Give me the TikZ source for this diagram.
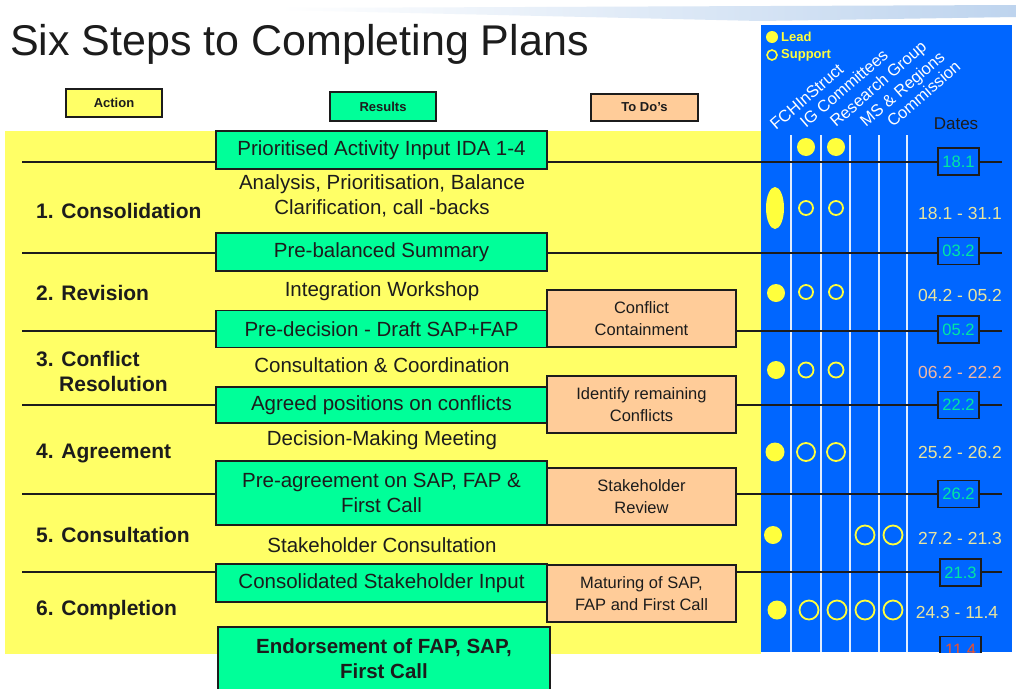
\documentclass[tikz,border=0pt]{standalone}
\usepackage{fontspec}
\setmainfont{Liberation Sans}
\definecolor{ylw}{RGB}{255,255,102}
\definecolor{grn}{RGB}{0,255,153}
\definecolor{pch}{RGB}{255,204,153}
\definecolor{pnl}{RGB}{0,102,255}
\definecolor{dtxt}{RGB}{0,232,160}
\definecolor{rtxt}{RGB}{232,228,160}
\definecolor{ptxt}{RGB}{240,184,164}
\definecolor{dot}{RGB}{255,255,60}
\definecolor{ink}{RGB}{28,28,28}
\definecolor{barblue}{RGB}{190,212,238}
\definecolor{redtxt}{RGB}{240,80,40}
\begin{document}
\begin{tikzpicture}[x=1pt,y=-1pt,
 ln/.style={draw=ink,line width=1.8pt},
 box/.style={draw=ink,line width=1.5pt,inner sep=0pt,align=center,text=ink},
 gbox/.style={box,fill=grn,minimum width=331pt,font=\fontsize{20.5}{25.5}\selectfont},
 pbox/.style={box,fill=pch,minimum width=189pt,minimum height=57pt,font=\fontsize{16.5}{22.5}\selectfont},
 hbox/.style={box,line width=1.3pt,font=\bfseries\fontsize{13}{15}\selectfont},
 act/.style={text=ink,align=center,font=\fontsize{20.5}{25}\selectfont,inner sep=0pt},
 stp/.style={text=ink,font=\bfseries\fontsize{21}{24}\selectfont,inner sep=0pt,anchor=base west},
 dbox/.style={draw=ink,line width=1.5pt,fill=pnl,text=dtxt,minimum width=41pt,minimum height=27pt,inner sep=0pt,font=\fontsize{16.5}{20}\selectfont},
 rng/.style={text=rtxt,font=\fontsize{17.5}{20}\selectfont,inner sep=0pt},
 supp/.style={draw=dot,line width=1.8pt},
 colh/.style={text=white,font=\fontsize{16.5}{19}\selectfont,rotate=41,anchor=base west,inner sep=0pt},
 vl/.style={draw=white!88!pnl,line width=1.4pt},
 lgd/.style={anchor=west,text=dot,font=\bfseries\fontsize{13}{15}\selectfont,inner sep=0pt}
]
\useasboundingbox (0,0) rectangle (1016,688);
\fill[white] (0,0) rectangle (1016,688);
% decorative bar
\shade[left color=white,right color=barblue] (280,8) -- (1016,5) -- (1016,17) -- (760,21) -- (280,10) -- cycle;
% title
\node[anchor=base west,inner sep=0pt,font=\fontsize{43}{48}\selectfont,text=ink] (title) at (10,55) {Six Steps to Completing Plans};
% backgrounds
\fill[ylw] (5,131) rectangle (761,654);
\fill[pnl] (761,25) rectangle (1012,652);
% header boxes
\node[hbox,fill=ylw,minimum width=96pt,minimum height=28pt] (hA) at (114,103) {Action};
\node[hbox,fill=grn,minimum width=106pt,minimum height=29pt] (hR) at (383,106.5) {Results};
\node[hbox,fill=pch,minimum width=107pt,minimum height=27pt] (hT) at (644.5,107.5) {To Do's};
% legend
\fill[dot] (772,37) circle (6);
\draw[supp,line width=1.6pt] (772,55) circle (5);
\node[lgd] (lgL) at (781,37) {Lead};
\node[lgd] (lgS) at (781,55) {Support};
% column headings
\node[colh] (cF) at (776,131) {FCHInStruct};
\node[colh] (cI) at (806,129) {IG Committees};
\node[colh] (cR) at (836,128) {Research Group};
\node[colh] (cM) at (866,128) {MS \& Regions};
\node[colh] (cC) at (893,128) {Commission};
\node[text=ink,font=\fontsize{17}{20}\selectfont,inner sep=0pt] (dates) at (956,124) {Dates};
% vertical separators
\foreach \x in {791,821,850,879,907} \draw[vl] (\x,135) -- (\x,652);
% timeline lines
\foreach \i/\y in {1/162,2/253,3/331,4/405,5/494,6/572} {
  \coordinate (s\i) at (22,\y);
  \coordinate (e\i) at (1002,\y);
  \draw[ln] (s\i) -- (e\i);
}
% results boxes
\node[gbox,minimum height=38pt] (g1) at (381.5,150) {Prioritised Activity Input IDA 1-4};
\node[gbox,minimum height=38pt] (g2) at (381.5,252) {Pre-balanced Summary};
\node[gbox,minimum height=37pt] (g3) at (381.5,329) {Pre-decision - Draft SAP+FAP};
\node[gbox,minimum height=36pt] (g4) at (381.5,405) {Agreed positions on conflicts};
\node[gbox,minimum height=64pt] (g5) at (381.5,493) {Pre-agreement on SAP, FAP \&\\First Call};
\node[gbox,minimum height=38pt] (g6) at (381.5,583) {Consolidated Stakeholder Input};
\node[gbox,minimum width=332pt,minimum height=93pt] (g7) at (384,673.5) {};
\node[act,font=\bfseries\fontsize{20.5}{25}\selectfont] (g7t) at (384,659) {Endorsement of FAP, SAP,\\First Call};
% to-do boxes
\node[pbox] (p1) at (641.5,318.5) {Conflict\\Containment};
\node[pbox] (p2) at (641.5,404.5) {Identify remaining\\Conflicts};
\node[pbox] (p3) at (641.5,496.5) {Stakeholder\\Review};
\node[pbox] (p4) at (641.5,593.5) {Maturing of SAP,\\FAP and First Call};
% actions
\node[act] (a1) at (382,195.5) {Analysis, Prioritisation, Balance\\Clarification, call -backs};
\node[act] (a2) at (382,291) {Integration Workshop};
\node[act] (a3) at (382,365) {Consultation \& Coordination};
\node[act] (a4) at (382,440) {Decision-Making Meeting};
\node[act] (a5) at (382,545) {Stakeholder Consultation};
% steps
\node[stp] (st1) at (36,218.5) {1. Consolidation};
\node[stp] (st2) at (36,300.5) {2. Revision};
\node[stp] (st3) at (36,366.5) {3. Conflict};
\node[stp] (st3b) at (59,391.5) {Resolution};
\node[stp] (st4) at (36,458.5) {4. Agreement};
\node[stp] (st5) at (36,542.5) {5. Consultation};
\node[stp] (st6) at (36,615.5) {6. Completion};
% date boxes
\node[dbox] (d1) at (958.5,161.5) {18.1};
\node[dbox] (d2) at (958.5,251) {03.2};
\node[dbox] (d3) at (958.5,329.5) {05.2};
\node[dbox] (d4) at (958.5,405) {22.2};
\node[dbox] (d5) at (958.5,494) {26.2};
\node[dbox] (d6) at (960.5,572.5) {21.3};
\begin{scope}
\clip (761,25) rectangle (1012,652);
\node[dbox,text=redtxt] (d7) at (960.5,650) {11.4};
\end{scope}
% ranges
\node[rng] (r1) at (960,213) {18.1 - 31.1};
\node[rng] (r2) at (960,295) {04.2 - 05.2};
\node[rng,text=ptxt] (r3) at (960,372) {06.2 - 22.2};
\node[rng] (r4) at (960,452) {25.2 - 26.2};
\node[rng] (r5) at (960,538) {27.2 - 21.3};
\node[rng] (r6) at (957,612) {24.3 - 11.4};
% dots
\fill[dot] (806,147) circle (9);
\fill[dot] (836,147) circle (9);
\fill[dot] (775,208) ellipse (9 and 21);
\draw[supp] (806,208) circle (7);
\draw[supp] (836,208) circle (7);
\fill[dot] (776,293) circle (9);
\draw[supp] (806,292) circle (7);
\draw[supp] (836,292) circle (7);
\fill[dot] (776,370) circle (9);
\draw[supp] (806,370) circle (7.5);
\draw[supp] (836,370) circle (7.5);
\fill[dot] (775,452) circle (9.5);
\draw[supp] (806,452) circle (9);
\draw[supp] (836,452) circle (9);
\fill[dot] (773,535) circle (9);
\draw[supp] (865,535) circle (9.5);
\draw[supp] (893,535) circle (9.5);
\fill[dot] (777,610) circle (9.5);
\draw[supp] (809,610) circle (9.5);
\draw[supp] (837,610) circle (9.5);
\draw[supp] (865,610) circle (9.5);
\draw[supp] (893,610) circle (9.5);
\end{tikzpicture}
\end{document}
